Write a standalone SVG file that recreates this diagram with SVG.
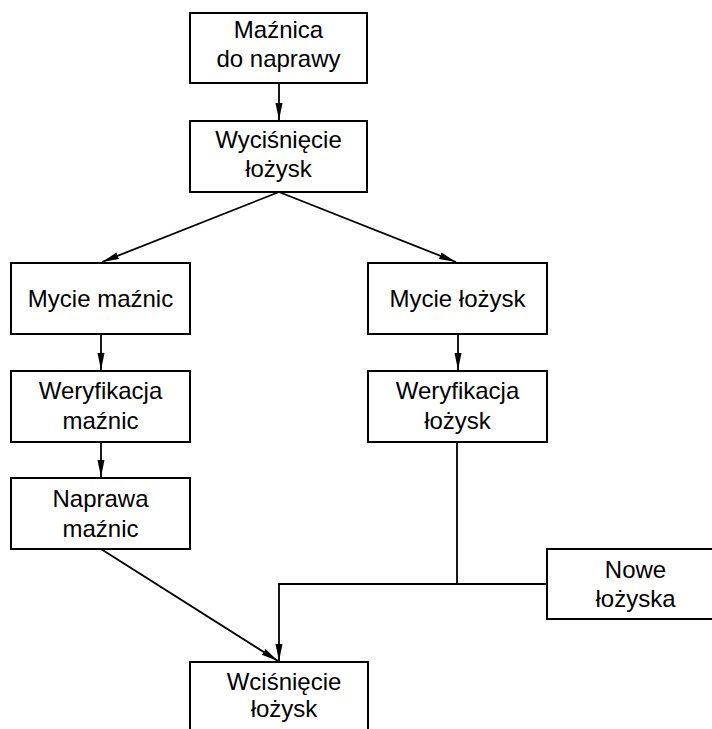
<svg xmlns="http://www.w3.org/2000/svg" width="712" height="729" viewBox="0 0 712 729">
<style>
.box{fill:#fff;stroke:#000;stroke-width:2}
.t{font-family:"Liberation Sans",Arial,sans-serif;font-size:24px;fill:#000;text-anchor:middle}
.c{fill:none;stroke:#000;stroke-width:1.8}
</style>
<defs>
<marker id="ah" markerUnits="userSpaceOnUse" markerWidth="18" markerHeight="10" refX="17" refY="3.5" orient="auto">
<path d="M0,0 L17,3.5 L0,7 z" fill="#000"/>
</marker>
</defs>
<rect width="712" height="729" fill="#fff"/>
<g id="connectors">
<line class="c" x1="279" y1="83" x2="279" y2="120" marker-end="url(#ah)"/>
<line class="c" x1="279" y1="192" x2="102" y2="262" marker-end="url(#ah)"/>
<line class="c" x1="279" y1="192" x2="456" y2="262" marker-end="url(#ah)"/>
<line class="c" x1="101" y1="334" x2="101" y2="370" marker-end="url(#ah)"/>
<line class="c" x1="458" y1="334" x2="458" y2="370" marker-end="url(#ah)"/>
<line class="c" x1="101" y1="442" x2="101" y2="477" marker-end="url(#ah)"/>
<line class="c" x1="101" y1="549" x2="278" y2="661" marker-end="url(#ah)"/>
<polyline class="c" points="457,442 457,584"/>
<polyline class="c" points="547,584 279,584 279,661" marker-end="url(#ah)"/>
</g>
<g id="n1"><rect class="box" x="190" y="13" width="177" height="70"/><text class="t" x="278.5" y="38">Maźnica</text><text class="t" x="278.5" y="67">do naprawy</text></g>
<g id="n2"><rect class="box" x="190" y="121" width="177" height="71"/><text class="t" x="278.5" y="148">Wyciśnięcie</text><text class="t" x="278.5" y="177">łożysk</text></g>
<g id="n3"><rect class="box" x="11" y="263" width="179" height="71"/><text class="t" x="100.5" y="307">Mycie maźnic</text></g>
<g id="n4"><rect class="box" x="368" y="263" width="179" height="71"/><text class="t" x="457.5" y="307">Mycie łożysk</text></g>
<g id="n5"><rect class="box" x="11" y="371" width="179" height="71"/><text class="t" x="100.5" y="399">Weryfikacja</text><text class="t" x="100.5" y="429">maźnic</text></g>
<g id="n6"><rect class="box" x="368" y="371" width="179" height="71"/><text class="t" x="457.5" y="399">Weryfikacja</text><text class="t" x="457.5" y="429">łożysk</text></g>
<g id="n7"><rect class="box" x="11" y="478" width="179" height="71"/><text class="t" x="100.5" y="507">Naprawa</text><text class="t" x="100.5" y="537">maźnic</text></g>
<g id="n8"><rect class="box" x="547" y="549" width="177" height="70"/><text class="t" x="635.5" y="578">Nowe</text><text class="t" x="635.5" y="607">łożyska</text></g>
<g id="n9"><rect class="box" x="190" y="662" width="178" height="90"/><text class="t" x="284" y="690">Wciśnięcie</text><text class="t" x="284" y="717">łożysk</text></g>
</svg>
